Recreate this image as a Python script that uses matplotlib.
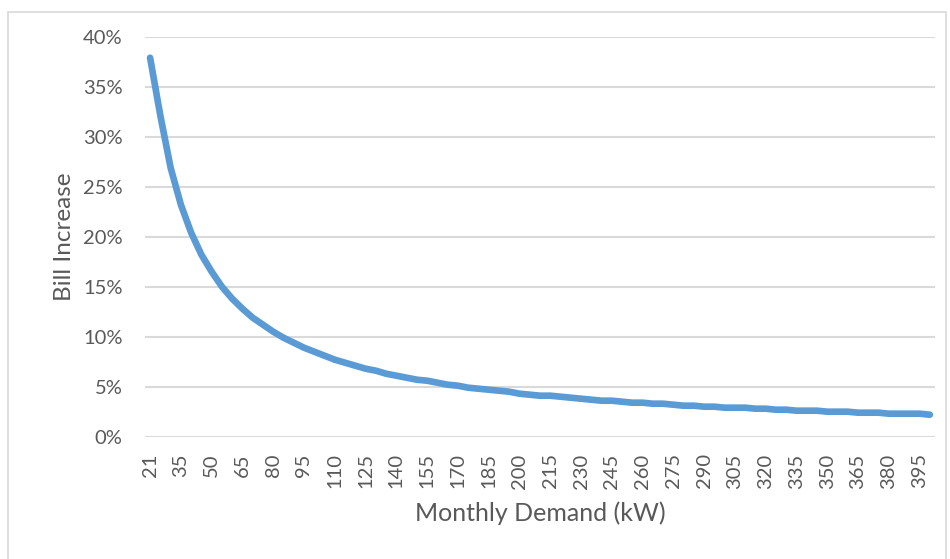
import matplotlib.pyplot as plt
from matplotlib.patches import Rectangle
from matplotlib.ticker import FuncFormatter

# Monthly demand categories (kW) and bill increase (%)
demand = [21, 25, 30, 35, 40, 45, 50, 55, 60, 65, 70, 75, 80, 85, 90, 95,
          100, 105, 110, 115, 120, 125, 130, 135, 140, 145, 150, 155, 160,
          165, 170, 175, 180, 185, 190, 195, 200, 205, 210, 215, 220, 225,
          230, 235, 240, 245, 250, 255, 260, 265, 270, 275, 280, 285, 290,
          295, 300, 305, 310, 315, 320, 325, 330, 335, 340, 345, 350, 355,
          360, 365, 370, 375, 380, 385, 390, 395, 400]
increase = [37.9, 32.1, 26.9, 23.2, 20.4, 18.2, 16.5, 15.0, 13.8, 12.8, 11.9,
            11.2, 10.5, 9.9, 9.4, 8.9, 8.5, 8.1, 7.7, 7.4, 7.1, 6.8, 6.6, 6.3,
            6.1, 5.9, 5.7, 5.6, 5.4, 5.2, 5.1, 4.9, 4.8, 4.7, 4.6, 4.5, 4.3,
            4.2, 4.1, 4.1, 4.0, 3.9, 3.8, 3.7, 3.6, 3.6, 3.5, 3.4, 3.4, 3.3,
            3.3, 3.2, 3.1, 3.1, 3.0, 3.0, 2.9, 2.9, 2.9, 2.8, 2.8, 2.7, 2.7,
            2.6, 2.6, 2.6, 2.5, 2.5, 2.5, 2.4, 2.4, 2.4, 2.3, 2.3, 2.3, 2.3,
            2.2]
y_ticks = [0, 5, 10, 15, 20, 25, 30, 35, 40]

plt.rcParams['font.family'] = ['Lato', 'DejaVu Sans']
text_col = '#595959'

fig = plt.figure(figsize=(9.5, 5.59), dpi=100)
ax = fig.add_axes([0.1526, 0.2188, 0.8316, 0.7155])

# outer chart border
fig.patches.append(Rectangle((8 / 950, -0.01), 938 / 950, 1 - 12 / 559 + 0.01,
                             transform=fig.transFigure, fill=False,
                             edgecolor='#d9d9d9', linewidth=1.2))

pos = list(range(len(demand)))
ax.plot(pos, increase, color='#5b9bd5', linewidth=4.8,
        solid_capstyle='round', solid_joinstyle='round', zorder=3)

ax.set_xlim(-0.5, len(demand) - 0.5)
ax.set_ylim(0, 40)
ax.set_yticks(y_ticks)
ax.yaxis.set_major_formatter(FuncFormatter(lambda v, p: f'{v:.0f}%'))
ax.grid(axis='y', color='#d9d9d9', linewidth=1.5)
ax.set_axisbelow(True)

ax.set_xticks(pos[::3])
ax.set_xticklabels([str(d) for d in demand[::3]], rotation=90)

for s in ax.spines.values():
    s.set_visible(False)
ax.tick_params(axis='both', length=0, colors=text_col, labelsize=14.5)
ax.tick_params(axis='y', pad=16)
ax.tick_params(axis='x', pad=12)

ax.set_xlabel('Monthly Demand (kW)', fontsize=18, color=text_col, labelpad=9)
ax.set_ylabel('Bill Increase', fontsize=17.5, color=text_col, labelpad=6)

fig.savefig('out.png', dpi=100, facecolor='white')
